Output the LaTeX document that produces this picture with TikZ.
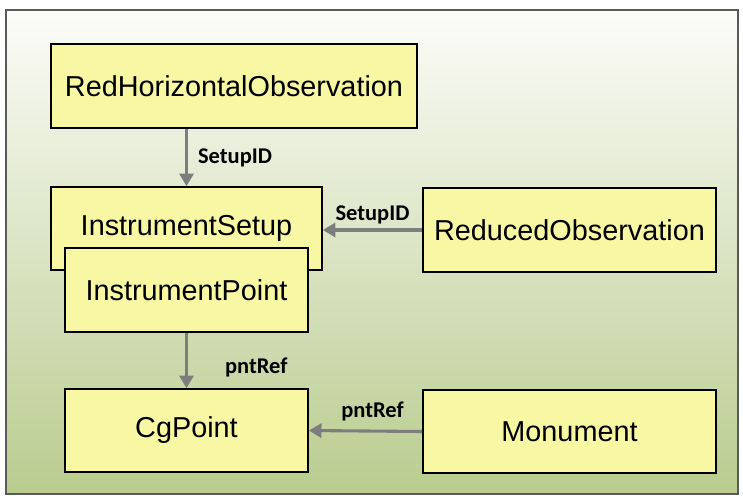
\documentclass[tikz,border=0pt]{standalone}
\usepackage{fontspec}
\setmainfont{Liberation Sans}
\newfontfamily\labelfont{Carlito}
\usetikzlibrary{arrows.meta}
\definecolor{boxyellow}{RGB}{248,248,164}
\definecolor{bgtop}{RGB}{252,252,249}
\definecolor{bgbottom}{RGB}{185,204,142}
\definecolor{arrowgray}{RGB}{125,125,125}
\definecolor{framegray}{RGB}{90,90,90}

\begin{document}
\begin{tikzpicture}[x=0.025cm,y=-0.025cm,
    entity/.style={draw=black,line width=1.1pt,fill=boxyellow,inner sep=0,font=\fontsize{20.5}{23}\selectfont},
    link/.style={draw=arrowgray,line width=2.2pt,-{Triangle[length=9pt,width=10pt]}},
    linklabel/.style={font=\labelfont\bfseries\fontsize{16}{18}\selectfont,inner sep=0}]

\useasboundingbox (0,0) rectangle (743,495);
\shade[top color=bgtop,bottom color=bgbottom,draw=framegray,line width=.8pt] (6,10) rectangle (738,494);

%entities
\node[entity,minimum width=9.15cm,minimum height=2.1cm] at (234,86)(redhz){RedHorizontalObservation};
\node[entity,minimum width=6.775cm,minimum height=2.075cm] at (186.5,228.5)(setup){InstrumentSetup};
\node[entity,minimum width=6.075cm,minimum height=2.1cm] at (186.5,290)(instpt){InstrumentPoint};
\node[entity,minimum width=7.325cm,minimum height=2.1cm] at (569.5,230)(reduced){ReducedObservation};
\node[entity,minimum width=6.075cm,minimum height=2.075cm] at (186.5,430.5)(cgpt){CgPoint};
\node[entity,minimum width=7.325cm,minimum height=2.075cm] at (569.5,431.5)(monument){Monument};

%links
\draw[link] (redhz.south -| setup.north) -- node[linklabel,anchor=west,xshift=.25cm]{SetupID} (setup.north);
\draw[link] (reduced.west) -- node[linklabel,anchor=base,yshift=.24cm]{SetupID} (reduced.west -| setup.east);
\draw[link] (instpt.south) -- node[linklabel,pos=.63,anchor=west,xshift=.925cm]{pntRef} (cgpt.north);
\draw[link] (monument.west) -- node[linklabel,anchor=base,xshift=.175cm,yshift=.33cm]{pntRef} (cgpt.east);

\end{tikzpicture}
\end{document}
